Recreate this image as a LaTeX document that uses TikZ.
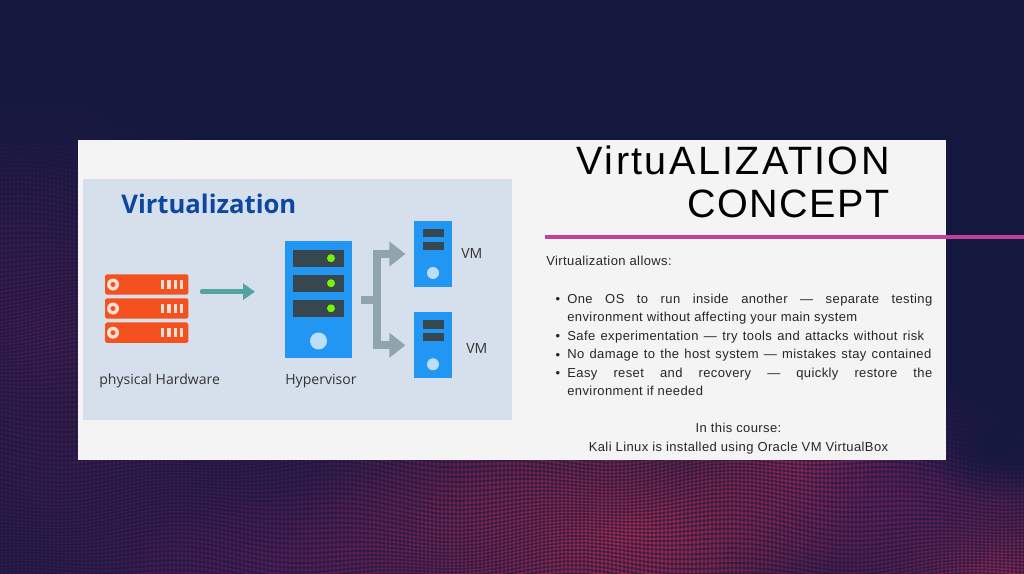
\documentclass[tikz,border=0pt]{standalone}
\usepackage{fontspec}
\setmainfont[LetterSpace=3]{Liberation Sans}
\newfontfamily\titleone[LetterSpace=6]{Liberation Sans}
\newfontfamily\titletwo[LetterSpace=3.8]{Liberation Sans}
\newfontfamily\picfont{Open Sans}
\definecolor{navybg}{RGB}{20,24,63}
\definecolor{wavered}{RGB}{175,45,80}
\definecolor{wavepurple}{RGB}{100,32,90}
\definecolor{panelgrey}{RGB}{244,244,245}
\definecolor{picblue}{RGB}{213,224,236}
\definecolor{headblue}{RGB}{13,71,161}
\definecolor{serverblue}{RGB}{33,150,243}
\definecolor{slotdark}{RGB}{55,71,79}
\definecolor{ledgreen}{RGB}{118,245,3}
\definecolor{diskblue}{RGB}{187,222,251}
\definecolor{hardorange}{RGB}{244,81,30}
\definecolor{hardpale}{RGB}{250,224,214}
\definecolor{tealarrow}{RGB}{84,163,163}
\definecolor{greyarrow}{RGB}{144,164,174}
\definecolor{pinkline}{RGB}{194,64,154}
\usetikzlibrary{arrows.meta,positioning,fadings}
\tikzfading[name=blobfade, inner color=transparent!0, outer color=transparent!100]

\begin{document}
\begin{tikzpicture}[
    x=0.02cm, y=-0.02cm,
    blob/.style={path fading=blobfade},
    picbox/.style={rectangle, fill=serverblue, inner sep=0pt},
    hardplate/.style={rectangle, fill=hardorange, rounded corners=1pt, minimum width=1.666cm, minimum height=0.41cm, inner sep=0pt},
    piclabel/.style={font=\picfont\fontsize{8}{10}\selectfont, color=black!80, inner sep=0pt, anchor=base west},
    itemtext/.style={text width=7.3cm, align=justify, inner sep=0pt, anchor=north west, font=\fontsize{7.4}{10.5}\selectfont, color=black!85},
    plaintext/.style={inner sep=0pt, font=\fontsize{7.4}{10.5}\selectfont, color=black!85},
    titletext/.style={inner sep=0pt, anchor=base east, color=black},
    feedarrow/.style={-{Triangle[length=0.24cm,width=0.32cm]}, line width=0.09cm, tealarrow, line cap=round},
    vmarrow/.style={-{Triangle[length=0.32cm,width=0.48cm]}, line width=0.16cm, greyarrow}
]
    \useasboundingbox (0,0) rectangle (1024,574);
    % Background
    \fill[navybg] (0,0) rectangle (1024,574);
    \begin{scope}
        \clip (0,0) rectangle (1024,574);
        \fill[wavepurple, blob, opacity=0.7] (40,330) ellipse (260 and 240);
        \fill[wavepurple, blob, opacity=0.85] (300,560) ellipse (500 and 190);
        \fill[wavered, blob] (620,530) ellipse (330 and 170);
        \fill[wavered, blob] (800,470) ellipse (120 and 100);
        \fill[wavered, blob] (990,570) ellipse (150 and 110);
        \fill[wavepurple, blob] (900,500) ellipse (190 and 120);
        \fill[navybg, blob] (995,445) ellipse (70 and 55);
        % Dotted waves
        \foreach \k in {120,124,...,600}
            \draw[navybg, line width=0.035cm, opacity=0.5, domain=0:1024, samples=50, variable=\t]
                plot (\t, {\k + 7*sin(\t*0.75+\k*1.6) + 4*sin(\t*1.9-\k*0.8)});
        \foreach \k in {0,4,...,1024}
            \draw[navybg, line width=0.03cm, opacity=0.4] (\k,120) -- (\k,574);
    \end{scope}

    % Panels
    \node[rectangle, fill=panelgrey, minimum width=17.36cm, minimum height=6.4cm, inner sep=0pt] (panel) at (512,300) {};
    \node[rectangle, fill=picblue, minimum width=8.58cm, minimum height=4.82cm, inner sep=0pt] (picpanel) at (297.5,299.5) {};
    \node[inner sep=0pt, anchor=base west, font=\picfont\bfseries\fontsize{14.6}{16}\selectfont, color=headblue] (pichead) at (121,214) {Virtualization};

    % Physical hardware
    \node[hardplate] (hw1) at (146.7,284.5) {};
    \node[hardplate] (hw2) at (146.7,308.5) {};
    \node[hardplate] (hw3) at (146.7,332.7) {};
    \foreach \y in {284.5,308.5,332.7} {
        \fill[hardpale] (113,\y) circle (6);
        \fill[hardorange] (113,\y) circle (2.5);
        \foreach \x in {162.7,169,175.3,181.3}
            \fill[hardpale] (\x-1.6,\y-4.6) rectangle (\x+1.6,\y+4.6);
    }
    \node[piclabel] (hwlabel) at (99,384.5) {physical Hardware};

    % Hypervisor
    \node[picbox, minimum width=1.328cm, minimum height=2.346cm] (hyper) at (318.5,299.7) {};
    \foreach \y in {258.2,283.2,308.3} {
        \fill[slotdark] (293.3,\y-8.3) rectangle (344,\y+8.3);
        \fill[ledgreen] (331,\y) circle (4);
    }
    \fill[diskblue] (318.5,341) circle (8.5);
    \node[piclabel] (hyperlabel) at (285,384.5) {Hypervisor};

    % Virtual machines
    \node[picbox, minimum width=0.76cm, minimum height=1.32cm] (vm1) at (433,254) {};
    \node[picbox, minimum width=0.76cm, minimum height=1.32cm] (vm2) at (433,345.3) {};
    \foreach \y in {254,345.3} {
        \fill[slotdark] (423,\y-25) rectangle (443.7,\y-16.7);
        \fill[slotdark] (423,\y-12.3) rectangle (443.7,\y-4.3);
        \fill[diskblue] (433,\y+19) circle (6);
    }
    \node[piclabel] (vm1label) at (461,258) {VM};
    \node[piclabel] (vm2label) at (466,353.5) {VM};

    % Arrows
    \coordinate (hwout) at (202,291.7);
    \coordinate (hyperin) at (255,291.7);
    \coordinate (hyperout) at (361,300);
    \coordinate (branch) at (377,300);
    \draw[feedarrow] (hwout) -- (hyperin);
    \draw[line width=0.16cm, greyarrow] (hyperout) -- (branch);
    \draw[vmarrow, shorten >=0.165cm] (branch) |- (vm1.west);
    \draw[vmarrow, shorten >=0.165cm] (branch) |- (vm2.west);

    % Title
    \node[titletext, font=\titleone\fontsize{22.5}{28}\selectfont] (title1) at (890,175) {VirtuALIZATION};
    \node[titletext, font=\titletwo\fontsize{22.5}{28}\selectfont] (title2) at (890,217.5) {CONCEPT};
    \coordinate (rulestart) at (545,237);
    \coordinate (ruleend) at (1024,237);
    \draw[pinkline, line width=0.08cm] (rulestart) -- (ruleend);

    % Body text
    \node[plaintext, anchor=base west] (intro) at (546,265) {Virtualization allows:};
    \node[itemtext] (item1) at (567,293.5) {One OS to run inside another --- separate testing\linebreak environment without affecting your main system};
    \node[itemtext] (item2) at (567,330.5) {\makebox[7.14cm][s]{Safe experimentation --- try tools and attacks without risk}};
    \node[itemtext] (item3) at (567,349) {\makebox[7.28cm][s]{No damage to the host system --- mistakes stay contained}};
    \node[itemtext] (item4) at (567,367.5) {Easy reset and recovery --- quickly restore the\linebreak environment if needed};
    \foreach \y/\n in {303.3/b1,340/b2,359/b3,377.3/b4}
        \node[plaintext, anchor=base] (\n) at (558,\y) {•};
    \node[plaintext, anchor=base] (course1) at (738.5,432.7) {In this course:};
    \node[plaintext, anchor=base] (course2) at (738.5,451) {Kali Linux is installed using Oracle VM VirtualBox};
\end{tikzpicture}
\end{document}
